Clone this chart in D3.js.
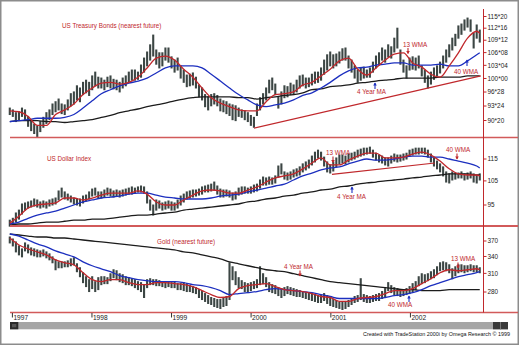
<!DOCTYPE html>
<html><head><meta charset="utf-8">
<script src="https://cdn.jsdelivr.net/npm/d3@7/dist/d3.min.js"></script>
<style>html,body{margin:0;padding:0;background:#fff;}svg{display:block;}</style>
</head><body><svg id="c" width="520" height="346"></svg>
<script>
// ---------- DATA ----------
const barStart = "1996-12-20";   // first bi-weekly bar
const barStepDays = 14;
const years = [1997, 1998, 1999, 2000, 2001, 2002];

// US Treasury Bonds (nearest future)
const bondHi = [93.3,92.9,92.3,92.5,93.3,92.9,91.5,90.8,89.8,89.4,
90.4,91.3,92.3,92.9,94.2,94.7,95.3,94.2,94.0,95.1,
96.5,96.9,98.3,97.8,99.1,99.6,99.1,100.6,101.5,100.3,
100.1,99.6,100.3,100.6,99.8,99.6,99.1,100.1,100.6,101.5,
102.0,102.0,101.5,103.2,104.9,106.4,108.2,110.7,106.9,106.2,
106.2,107.4,107.4,105.2,104.4,104.9,103.0,102.0,100.8,101.0,
101.3,100.3,98.5,97.8,96.3,95.8,96.3,96.5,96.1,95.3,
94.9,94.7,94.2,94.0,93.8,93.3,92.9,92.7,92.3,91.7,
91.3,94.2,95.6,96.5,97.8,99.6,100.1,98.7,95.8,96.9,
98.3,98.1,98.9,98.5,99.6,100.6,100.8,100.1,100.1,101.0,
101.5,101.5,102.5,104.4,105.7,106.4,105.7,105.9,106.4,107.2,
107.4,105.4,104.4,103.0,102.0,102.5,102.7,102.0,102.5,103.9,
105.4,106.2,107.4,106.9,108.2,107.7,109.9,112.5,106.9,104.4,
103.0,104.9,105.2,104.9,105.4,103.0,102.0,100.6,101.5,102.5,
103.0,103.9,105.4,106.9,108.2,109.9,110.9,113.1,113.6,114.7,
115.2,114.7,111.2,113.35,112.0];
const bondLo = [91.9,91.5,90.4,90.6,91.5,90.8,89.4,88.5,87.9,87.3,
88.3,89.2,90.0,90.8,91.9,92.5,92.9,92.1,91.9,92.9,
93.8,94.2,95.1,94.7,96.3,96.7,96.1,97.4,98.3,97.8,
97.8,97.4,98.1,97.8,97.6,97.4,96.9,97.8,98.3,99.1,
99.6,99.6,99.8,100.3,101.5,103.0,104.4,105.4,103.4,102.5,
103.0,104.4,103.9,102.5,101.5,102.0,100.1,99.1,98.1,98.3,
98.5,97.8,95.8,95.1,93.6,92.9,93.8,94.2,93.8,92.7,
92.5,92.1,91.7,90.8,90.6,91.5,91.3,90.8,90.4,89.6,
89.2,91.7,92.9,94.2,95.1,96.7,97.4,96.3,93.3,94.2,
95.6,95.8,96.3,96.3,96.9,97.8,98.3,97.8,98.1,98.5,
98.9,99.1,99.6,101.0,102.0,103.0,102.5,103.0,103.7,104.4,
104.4,102.5,101.5,100.1,99.1,99.6,100.1,100.3,100.3,101.5,
102.5,103.2,104.4,103.9,105.2,104.9,106.4,107.4,103.4,101.5,
100.1,102.0,102.2,102.0,102.5,100.6,99.1,97.8,98.7,99.8,
100.6,101.3,102.5,103.9,105.2,106.9,108.0,109.9,110.9,112.0,
112.8,111.7,107.4,109.9,108.9];
const bondMA13 = [92.7,92.5,91.5,89.6,89.6,91.9,92.9,94.2,96.3,97.8,
98.9,99.1,98.7,99.1,100.3,102.5,104.9,105.4,104.4,102.2,
100.3,97.8,95.6,94.4,93.6,92.9,92.7,92.7,94.7,96.3,
96.5,96.9,98.5,99.1,100.6,102.2,104.2,104.9,102.2,100.8,
102.5,104.4,105.9,106.2,103.7,102.7,101.0,100.3,103.0,106.2,
109.9,111.7,111.2];
const bondMA40 = [90.4,90.6,90.8,91.1,91.1,91.1,91.3,91.9,93.3,94.9,
96.5,97.4,98.3,98.9,99.4,100.1,101.3,102.5,103.0,103.0,
103.0,102.5,101.0,99.4,97.8,96.3,95.1,94.0,93.6,94.0,
94.4,95.1,96.1,96.7,97.8,99.1,100.6,101.8,102.5,102.7,
103.2,103.4,103.7,103.7,103.2,103.2,103.2,103.4,103.0,103.0,
104.2,105.7,106.2];
const bondMA4Y = [90.4,90.6,90.6,90.6,90.4,90.4,90.2,90.4,90.6,90.8,
91.3,91.7,92.3,92.7,93.1,93.6,94.0,94.4,94.9,95.3,
95.6,95.8,95.8,95.8,95.8,95.6,95.6,95.3,95.6,95.8,
96.1,96.3,96.7,97.4,97.6,98.1,98.3,98.5,98.9,99.1,
99.4,99.6,99.8,100.1,100.1,100.1,100.1,100.3,100.3,100.3,
100.6,100.6,100.6];
const bondTrend = [["2000-01-14", 89.0], ["2002-11-20", 100.6]];
const bondTicks = [115.625,112.5,109.375,106.25,103.125,100,96.875,93.75,90.625];
const bondTickLabels = ["115*20","112*16","109*12","106*08","103*04","100*00","96*28","93*24","90*20"];

// US Dollar Index
const usdHi = [89.2,89.9,91.9,93.0,95.4,95.8,96.2,96.6,97.4,97.0,
96.2,96.6,96.2,97.0,97.4,97.8,100.7,101.9,100.3,99.4,
98.6,97.8,97.4,97.4,98.6,99.0,100.3,101.5,101.9,100.3,
100.3,101.1,101.9,101.5,100.7,101.1,100.7,101.1,101.5,101.9,
102.4,101.9,102.4,102.8,102.4,100.3,97.0,95.0,97.0,96.6,
95.8,96.2,96.6,96.2,95.8,97.0,98.6,99.4,100.3,100.7,
101.1,101.1,101.5,102.4,102.8,103.2,103.6,104.5,102.8,101.5,
101.1,101.1,100.7,99.8,100.3,101.9,102.4,102.4,101.9,102.4,
103.2,103.6,105.4,106.7,106.3,106.7,106.3,107.2,111.7,112.7,
109.0,108.5,109.0,109.9,110.4,111.3,112.7,113.6,114.5,116.4,
118.3,119.3,118.3,115.9,113.6,112.2,113.6,115.5,116.9,116.9,
116.4,117.4,117.8,118.3,119.3,119.8,120.3,120.3,120.8,119.3,
117.8,116.9,116.4,115.5,115.5,116.4,117.4,116.9,116.9,117.4,
117.8,119.3,119.8,120.3,120.3,120.3,120.3,119.3,117.4,115.5,
114.0,112.7,111.3,109.0,108.1,109.0,108.5,108.5,109.0,108.1,
108.5,109.0,108.1,107.2,108.1];
const usdLo = [87.0,87.8,88.5,89.6,91.5,93.0,93.8,94.2,94.6,94.2,
93.8,94.2,93.8,94.6,95.0,95.4,97.0,98.2,97.4,97.0,
96.2,95.4,95.0,94.6,95.8,96.6,97.4,98.6,99.0,97.8,
97.8,98.2,99.0,98.6,98.2,98.6,98.2,98.6,99.0,99.4,
99.4,99.8,100.3,100.3,99.8,95.8,93.0,91.1,93.0,93.8,
93.0,93.4,93.8,93.0,93.0,93.8,95.0,96.2,97.4,97.8,
98.2,98.6,99.0,99.4,100.3,100.3,100.7,101.1,99.4,98.2,
98.2,98.6,98.2,97.0,97.4,99.0,99.4,99.8,99.8,99.8,
100.3,100.7,101.9,103.2,103.2,103.6,103.6,104.1,106.7,108.1,
105.8,105.4,105.8,106.7,107.2,107.6,109.0,109.9,110.8,112.2,
113.6,115.5,114.5,111.7,109.0,108.5,109.4,111.3,112.7,113.1,
112.7,113.6,114.5,115.0,115.9,116.4,116.9,117.4,117.8,115.9,
114.5,113.6,113.1,112.2,111.7,113.1,114.0,113.6,114.0,114.5,
115.0,116.4,116.9,117.4,117.4,117.8,117.4,115.9,113.6,111.7,
110.4,109.0,107.2,104.5,104.1,105.4,105.8,106.3,106.3,105.4,
105.8,106.3,104.5,104.1,105.4];
const usdMA13 = [88.1,90.7,93.8,95.0,95.4,95.8,97.8,97.8,97.0,97.8,
99.0,99.8,99.8,99.8,100.7,99.4,96.2,95.0,95.0,97.0,
99.0,100.7,101.1,100.7,99.8,99.8,101.1,102.4,104.5,106.3,
107.2,108.1,110.4,113.1,115.5,112.2,112.2,114.5,116.4,117.8,
117.8,115.5,115.5,115.9,117.4,118.3,116.9,114.0,110.4,108.1,
107.6,107.6,107.2];
const usdMA40 = [87.8,88.5,89.9,91.1,91.9,92.6,93.8,95.0,96.2,97.0,
97.8,98.2,98.6,99.4,99.8,99.8,99.0,98.2,97.8,97.4,
97.4,97.4,97.8,98.6,99.0,99.4,100.3,101.1,101.9,102.8,
103.6,105.4,107.2,108.5,109.9,110.8,111.3,112.7,114.0,115.0,
114.5,114.5,115.0,115.9,116.4,116.4,115.9,115.9,115.0,114.0,
113.1,111.7,110.8];
const usdMA4Y = [87.4,87.8,87.8,88.1,88.5,88.5,88.8,89.2,89.2,89.6,
89.6,89.9,90.3,90.7,91.1,91.1,91.5,91.9,92.2,93.0,
93.4,93.8,94.2,94.6,95.0,95.4,96.2,96.6,97.4,97.8,
98.6,99.0,99.8,100.3,101.1,101.5,102.4,102.8,103.6,104.1,
104.5,105.0,105.4,105.8,106.3,106.7,107.2,107.6,108.1,108.1,
108.1,107.6,107.6];
const usdTrend = [["2001-01-06", 107.9], ["2002-04-23", 113.1]];
const usdTicks = [115, 105, 95];
const usdTickLabels = ["115", "105", "95"];

// Gold (nearest future)
const goldHi = [378.2,374.1,368.1,360.2,354.4,366.1,362.1,356.3,354.4,352.4,
350.5,352.4,348.6,344.9,339.3,333.8,330.2,330.2,330.2,332.0,
335.6,337.5,326.7,319.7,311.1,304.4,299.5,304.4,296.3,302.8,
304.4,304.4,302.8,309.4,316.2,314.5,309.4,307.7,304.4,302.8,
301.1,299.5,296.3,294.7,291.5,299.5,301.1,299.5,299.5,297.9,
296.3,296.3,296.3,294.7,296.3,293.1,293.1,294.7,293.1,289.9,
288.4,286.8,283.7,280.7,277.6,274.6,271.7,270.2,268.7,268.7,
271.7,273.2,328.5,321.4,312.8,302.8,297.9,294.7,293.1,294.7,
296.3,299.5,321.4,309.4,302.8,294.7,291.5,289.9,286.8,285.3,
286.8,288.4,286.8,285.3,283.7,282.2,280.7,279.1,279.1,277.6,
276.1,274.6,274.6,277.6,274.6,271.7,268.7,267.3,264.4,264.4,
265.9,267.3,270.2,273.2,274.6,301.1,276.1,274.6,273.2,274.6,
276.1,277.6,280.7,285.3,294.7,289.9,286.8,285.3,283.7,283.7,
285.3,288.4,293.1,296.3,304.4,309.4,307.7,309.4,312.8,316.2,
321.4,328.5,330.2,328.5,324.9,317.9,321.4,324.9,324.9,323.2,
323.2,324.9,323.2,323.2,319.7];
const goldLo = [366.1,360.2,348.6,343.0,339.3,350.5,346.8,343.0,341.2,339.3,
339.3,341.2,337.5,333.8,328.5,316.2,319.7,319.7,321.4,321.4,
323.2,324.9,312.8,304.4,294.7,288.4,280.7,285.3,280.7,283.7,
291.5,293.1,293.1,297.9,302.8,299.5,296.3,294.7,291.5,291.5,
289.9,286.8,283.7,280.7,271.7,286.8,291.5,291.5,289.9,289.9,
288.4,286.8,288.4,286.8,286.8,283.7,283.7,282.2,280.7,280.7,
279.1,277.6,271.7,268.7,265.9,263.0,261.5,258.7,257.3,255.9,
258.7,260.1,268.7,299.5,291.5,286.8,285.3,280.7,279.1,282.2,
285.3,286.8,291.5,293.1,288.4,280.7,279.1,277.6,274.6,271.7,
274.6,277.6,276.1,274.6,273.2,273.2,271.7,270.2,268.7,267.3,
265.9,264.4,264.4,267.3,263.0,260.1,258.7,257.3,255.9,254.5,
255.9,258.7,261.5,264.4,265.9,268.7,265.9,264.4,264.4,265.9,
267.3,267.3,270.2,273.2,282.2,279.1,276.1,274.6,273.2,274.6,
276.1,277.6,280.7,283.7,289.9,293.1,294.7,297.9,301.1,302.8,
307.7,314.5,316.2,314.5,311.1,301.1,306.1,311.1,312.8,311.1,
312.8,314.5,312.8,312.8,311.1];
const goldMA13 = [376.1,362.1,354.4,348.6,343.0,333.8,328.5,324.9,311.1,299.5,
296.3,299.5,299.5,294.7,291.5,291.5,294.7,294.7,293.1,291.5,
288.4,282.2,276.1,271.7,273.2,285.3,289.9,291.5,293.1,288.4,
283.7,282.2,280.7,277.6,273.2,271.7,265.9,265.9,270.2,271.7,
273.2,277.6,282.2,282.2,285.3,293.1,301.1,311.1,316.2,314.5,
316.2,317.9,316.2];
const goldMA40 = [384.4,380.2,372.0,364.2,358.2,350.5,344.9,339.3,330.2,323.2,
317.9,312.8,306.1,302.8,299.5,297.9,296.3,296.3,296.3,294.7,
291.5,289.9,286.8,282.2,276.1,277.6,279.1,280.7,283.7,285.3,
283.7,282.2,280.7,279.1,276.1,273.2,270.2,270.2,270.2,270.2,
270.2,271.7,274.6,276.1,279.1,283.7,289.9,294.7,299.5,304.4,
307.7,311.1,312.8];
const goldMA4Y = [384.4,382.3,380.2,378.2,378.2,376.1,376.1,374.1,372.0,370.0,
368.1,366.1,364.2,362.1,360.2,358.2,356.3,354.4,352.4,348.6,
346.8,343.0,339.3,335.6,330.2,326.7,323.2,319.7,316.2,314.5,
312.8,309.4,306.1,302.8,299.5,296.3,294.7,293.1,291.5,289.9,
288.4,286.8,285.3,283.7,283.7,282.2,282.2,282.2,283.7,283.7,
283.7,283.7,283.7];
const goldTicks = [370, 340, 310, 280];
const goldTickLabels = ["370", "340", "310", "280"];

// ---------- CHART ----------
const svg = d3.select("#c");
const FONT = "'Liberation Sans', Arial, sans-serif";
const RED = "#c0282c", BLUE = "#1c2fbf", BLACK = "#1c1c1c", SEP = "#d25a5a";
const parse = d3.timeParse("%Y-%m-%d");
const start = parse(barStart);
const dates = d3.range(bondHi.length).map(i => d3.timeDay.offset(start, barStepDays * i));
const maIdx = d3.range(0, dates.length - 1, 3).concat([dates.length - 1]);

const x = d3.scaleTime().domain([new Date(1997, 0, 1), new Date(2003, 0, 1)]).range([12.4, 490]);

// frame
svg.append("rect").attr("x", 0.75).attr("y", 0.75).attr("width", 517.5).attr("height", 343.5)
  .attr("fill", "#fff").attr("stroke", "#8c8c8c").attr("stroke-width", 1.5);

const panels = [
  { hi: bondHi, lo: bondLo, mas: [bondMA4Y, bondMA40, bondMA13], trend: bondTrend,
    y: d3.scaleLog().domain([90.625, 115.625]).range([120.5, 16.5]),
    ticks: bondTicks, labels: bondTickLabels },
  { hi: usdHi, lo: usdLo, mas: [usdMA4Y, usdMA40, usdMA13], trend: usdTrend,
    y: d3.scaleLog().domain([95, 115]).range([205, 159]),
    ticks: usdTicks, labels: usdTickLabels },
  { hi: goldHi, lo: goldLo, mas: [goldMA4Y, goldMA40, goldMA13], trend: null,
    y: d3.scaleLog().domain([280, 370]).range([292, 241]),
    ticks: goldTicks, labels: goldTickLabels }
];
const maColors = [BLACK, BLUE, RED];

panels.forEach(p => {
  const g = svg.append("g");
  // price bars (high-low)
  g.append("g").selectAll("line").data(d3.range(p.hi.length)).join("line")
    .attr("x1", i => x(dates[i])).attr("x2", i => x(dates[i]))
    .attr("y1", i => p.y(p.hi[i]) - 0.5).attr("y2", i => p.y(p.lo[i]) + 0.5)
    .attr("stroke", "#3c4644").attr("stroke-width", 2.1);
  // moving averages
  p.mas.forEach((ma, k) => {
    const pts = ma.map((v, j) => [dates[maIdx[j]], v]).filter(d => d[0]);
    g.append("path").datum(pts)
      .attr("d", d3.line().x(d => x(d[0])).y(d => p.y(d[1])).curve(d3.curveMonotoneX))
      .attr("fill", "none").attr("stroke", maColors[k]).attr("stroke-width", 1.3);
  });
  // trend line
  if (p.trend) {
    g.append("line")
      .attr("x1", x(parse(p.trend[0][0]))).attr("y1", p.y(p.trend[0][1]))
      .attr("x2", x(parse(p.trend[1][0]))).attr("y2", p.y(p.trend[1][1]))
      .attr("stroke", RED).attr("stroke-width", 1.2);
  }
  // right axis labels
  p.ticks.forEach((t, k) => {
    svg.append("line").attr("x1", 483.5).attr("x2", 486.5)
      .attr("y1", p.y(t)).attr("y2", p.y(t)).attr("stroke", RED).attr("stroke-width", 1);
    svg.append("text").attr("x", 487.5).attr("y", p.y(t)).attr("dy", "0.35em")
      .attr("font-family", FONT).attr("font-size", 6.4).attr("fill", "#222").text(p.labels[k]);
  });
});

// separators and right axis line
[[137.5, 1.5], [226, 2], [312.5, 1.5]].forEach(([yy, w]) => {
  svg.append("line").attr("x1", 10).attr("x2", 518).attr("y1", yy).attr("y2", yy)
    .attr("stroke", SEP).attr("stroke-width", w);
});
svg.append("line").attr("x1", 483.5).attr("x2", 483.5).attr("y1", 9).attr("y2", 312.5)
  .attr("stroke", RED).attr("stroke-width", 1);

// year axis
years.forEach(yr => {
  const xx = x(new Date(yr, 0, 1));
  svg.append("line").attr("x1", xx).attr("x2", xx).attr("y1", 313).attr("y2", 317.5)
    .attr("stroke", "#333").attr("stroke-width", 1);
  svg.append("text").attr("x", xx + 1).attr("y", 319.6)
    .attr("font-family", FONT).attr("font-size", 6.6).attr("fill", "#222").text(yr);
});

// titles
const txt = (s, xx, yy, col, size) => svg.append("text").attr("x", xx).attr("y", yy)
  .attr("font-family", FONT).attr("font-size", size || 6.3).attr("fill", col || RED).text(s);
txt("US Treasury Bonds (nearest future)", 62, 28);
txt("US Dollar Index", 47, 161.3);
txt("Gold (nearest future)", 157, 244.3);

// annotations
function arrow(xx, yTail, yTip, col) {
  svg.append("line").attr("x1", xx).attr("x2", xx).attr("y1", yTail).attr("y2", yTip)
    .attr("stroke", col).attr("stroke-width", 1.1);
  const d = yTip > yTail ? 1 : -1;
  svg.append("path").attr("d", `M${xx - 1.8},${yTip - d * 2.4}L${xx + 1.8},${yTip - d * 2.4}L${xx},${yTip + d * 0.4}Z`)
    .attr("fill", col);
}
txt("13 WMA", 403, 46.8); arrow(408, 48, 53.5, RED);
txt("4 Year MA", 357, 94.3); arrow(375, 89, 83, BLUE);
txt("40 WMA", 454, 74.3); arrow(467, 66, 60, BLUE);
txt("13 WMA", 326, 155); arrow(333, 156.5, 162.5, RED);
txt("4 Year MA", 337, 199.3); arrow(352, 193, 187, BLUE);
txt("40 WMA", 446, 152.3); arrow(457, 153.5, 159, RED);
txt("4 Year MA", 284, 269.3); arrow(300, 270.5, 276, RED);
txt("40 WMA", 388, 307.3); arrow(409, 302, 296, BLUE);
txt("13 WMA", 451, 261.3); arrow(458, 262.5, 268, RED);

// scrollbar
svg.append("rect").attr("x", 10).attr("y", 322).attr("width", 498).attr("height", 7.3).attr("fill", "#a6a6a6");
svg.append("rect").attr("x", 10).attr("y", 322).attr("width", 8.3).attr("height", 7.3).attr("fill", "#2b2b2b");
svg.append("rect").attr("x", 12).attr("y", 324).attr("width", 4.3).attr("height", 3.3).attr("fill", "#555");
svg.append("rect").attr("x", 493).attr("y", 322).attr("width", 15).attr("height", 7.3).attr("fill", "#3a3a3a");
svg.append("line").attr("x1", 500.5).attr("x2", 500.5).attr("y1", 322).attr("y2", 329.3).attr("stroke", "#777").attr("stroke-width", 1);

// credit
svg.append("text").attr("x", 363).attr("y", 335.5).attr("font-family", FONT).attr("font-size", 5.5)
  .attr("fill", "#111").attr("textLength", 147).attr("lengthAdjust", "spacingAndGlyphs")
  .text("Created with TradeStation 2000i by Omega Research \u00A9 1999");
</script>
</body></html>
